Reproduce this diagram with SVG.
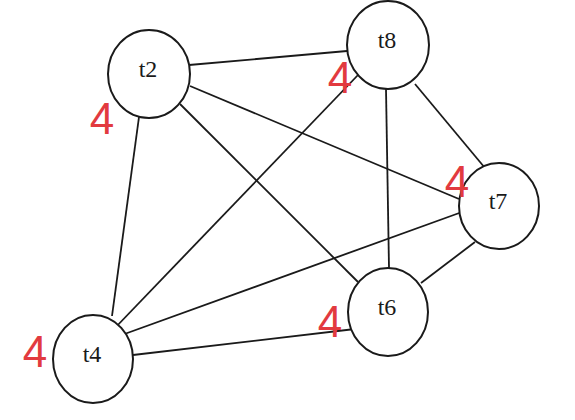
<svg xmlns="http://www.w3.org/2000/svg" width="575" height="420" viewBox="0 0 575 420">
<style>
.node ellipse{fill:#fff;stroke:#1a1a1a;stroke-width:2}
.node text{font-family:"Liberation Serif","DejaVu Serif",serif;font-size:24px;fill:#1a1a1a;text-anchor:middle}
.edges line{stroke:#1a1a1a;stroke-width:1.8}
.deg{font-family:"Liberation Sans","DejaVu Sans",sans-serif;font-size:44px;fill:#e23a3f;text-anchor:middle}
</style>
<rect width="575" height="420" fill="#fff"/>
<g class="edges">
<line x1="189" y1="65" x2="347" y2="51"/>
<line x1="190" y1="86" x2="459" y2="199"/>
<line x1="180" y1="104" x2="358" y2="282"/>
<line x1="139" y1="117" x2="112" y2="316"/>
<line x1="358" y1="75" x2="114" y2="329"/>
<line x1="386" y1="89" x2="389" y2="268"/>
<line x1="415" y1="84" x2="485" y2="168"/>
<line x1="462" y1="212" x2="119" y2="336"/>
<line x1="475" y1="242" x2="421" y2="283"/>
<line x1="355" y1="329" x2="133" y2="355"/>
</g>
<g id="t2" class="node"><ellipse cx="149" cy="74" rx="41" ry="44"/><text x="148" y="77">t2</text></g>
<g id="t8" class="node"><ellipse cx="388" cy="45" rx="41" ry="44"/><text x="387" y="48">t8</text></g>
<g id="t7" class="node"><ellipse cx="499" cy="206" rx="40" ry="43"/><text x="498" y="209">t7</text></g>
<g id="t6" class="node"><ellipse cx="388" cy="312" rx="40" ry="44"/><text x="387" y="315">t6</text></g>
<g id="t4" class="node"><ellipse cx="93" cy="359" rx="40" ry="44"/><text x="92" y="362">t4</text></g>
<text class="deg" x="102" y="134">4</text>
<text class="deg" x="340" y="93">4</text>
<text class="deg" x="457" y="197">4</text>
<text class="deg" x="330" y="337">4</text>
<text class="deg" x="35" y="367">4</text>
</svg>
